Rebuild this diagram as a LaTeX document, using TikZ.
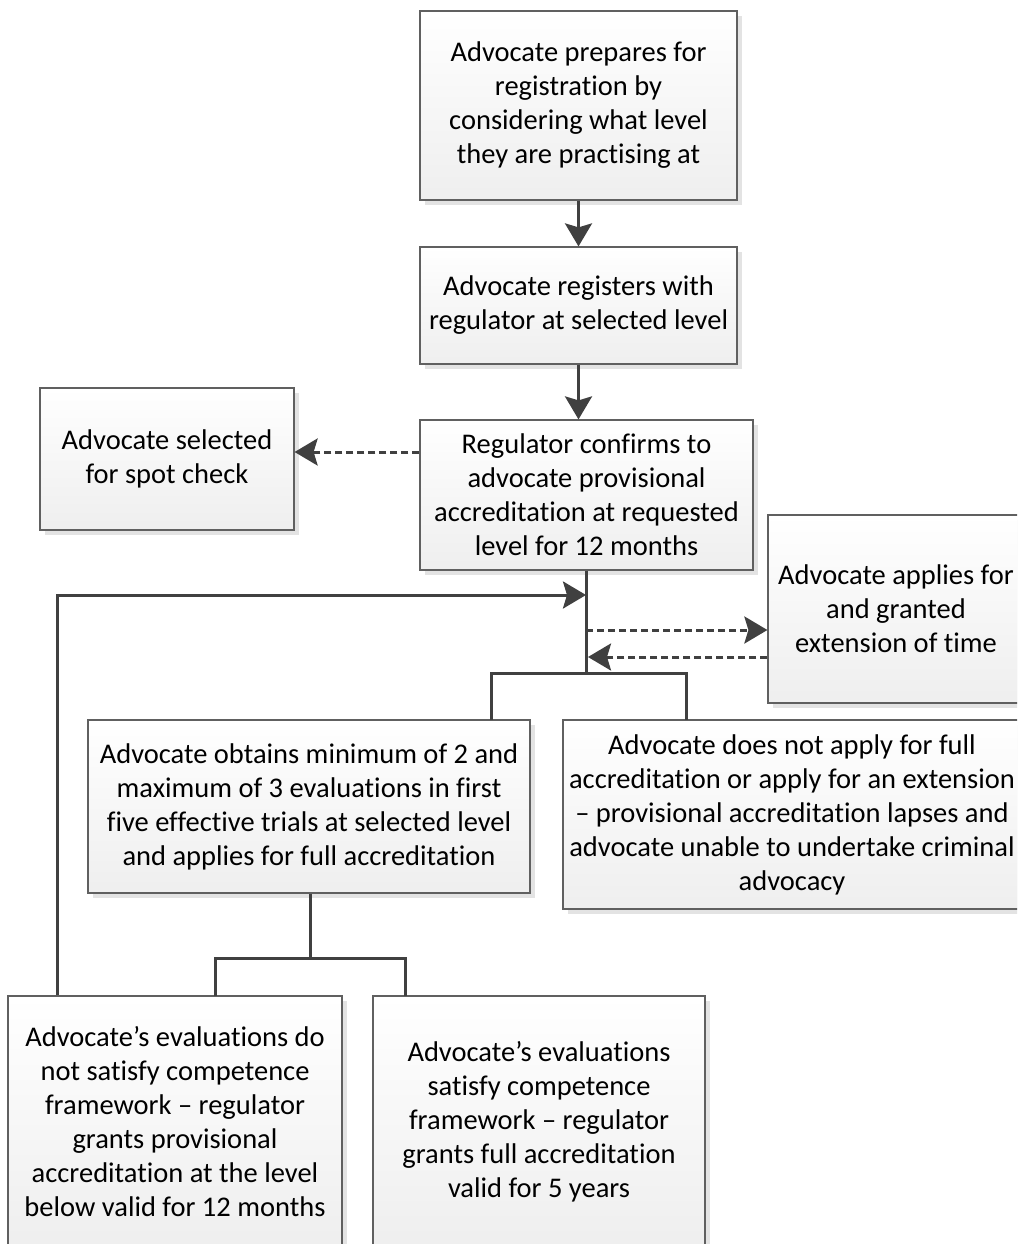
\documentclass[tikz,border=0pt]{standalone}
\usepackage{fontspec}
\setmainfont{Carlito}[Ligatures={NoCommon}]
\usetikzlibrary{arrows.meta,shadows}
\definecolor{ln}{HTML}{404040}
\definecolor{bd}{HTML}{606060}
\begin{document}
\begin{tikzpicture}[x=1pt,y=-1pt,
  box/.style={draw=bd,line width=1.2pt,rectangle,top color=white,bottom color=gray!13,
    drop shadow={shadow xshift=5pt,shadow yshift=-5pt,fill=gray!22,opacity=1},
    align=center,inner sep=0pt,font=\fontsize{28.5}{34}\selectfont},
  conn/.style={draw=ln,line width=3pt},
  arr/.style={conn,-{Stealth[length=23pt,width=27pt,inset=4pt]}},
  darr/.style={arr,dash pattern=on 7pt off 4pt}]
\useasboundingbox (0,0) rectangle (1017,1244);
\clip (0,0) rectangle (1017,1244);
\fill[white] (0,0) rectangle (1017,1244);
\node[box,minimum width=317pt,minimum height=189pt] (b1) at (578.5,105.5)
  {Advocate prepares for\\registration by\\considering what level\\they are practising at};
\node[box,minimum width=317pt,minimum height=117pt] (b2) at (578.5,305.5)
  {Advocate registers with\\regulator at selected level};
\node[box,minimum width=333pt,minimum height=150pt] (b3) at (586.5,495)
  {Regulator confirms to\\advocate provisional\\accreditation at requested\\level for 12 months};
\node[box,minimum width=254pt,minimum height=142pt] (spot) at (167,459)
  {Advocate selected\\for spot check};
\node[box,minimum width=256pt,minimum height=188pt] (ext) at (896,609)
  {Advocate applies for\\and granted\\extension of time};
\node[box,minimum width=442pt,minimum height=173pt] (obt) at (309,806.5)
  {Advocate obtains minimum of 2 and\\maximum of 3 evaluations in first\\five effective trials at selected level\\and applies for full accreditation};
\node[box,minimum width=458pt,minimum height=189pt] (nap) at (792,814.5)
  {Advocate does not apply for full\\accreditation or apply for an extension\\– provisional accreditation lapses and\\advocate unable to undertake criminal\\advocacy};
\node[box,minimum width=334pt,minimum height=251pt] (nsat) at (175,1121.5)
  {Advocate’s evaluations do\\not satisfy competence\\framework – regulator\\grants provisional\\accreditation at the level\\below valid for 12 months};
\node[box,minimum width=332pt,minimum height=251pt] (sat) at (539,1121.5)
  {Advocate’s evaluations\\satisfy competence\\framework – regulator\\grants full accreditation\\valid for 5 years};
% coordinates
\coordinate (j1) at (586,673);
\coordinate (jin) at (586,595);
\coordinate (jo) at (586,630);
\coordinate (ji) at (588,657);
\coordinate (j2) at (310,958);
% connectors
\draw[arr] (b1.south) -- (b2.north);
\draw[arr] (b2.south) -- (b3.north -| b2.south);
\draw[darr] (b3.west |- spot.east) ++(0,-7) -- (spot.east |- 0,452);
\draw[conn] (b3.south -| j1) -- (j1);
\draw[conn] (491,720) |- (j1) -| (686,720);
\draw[arr] (nsat.north -| 57,0) |- (jin);
\draw[darr] (jo) -- (ext.west |- jo);
\draw[darr] (ext.west |- ji) -- (ji);
\draw[conn] (obt.south -| j2) -- (j2);
\draw[conn] (215,996) |- (j2) -| (405,996);
\end{tikzpicture}
\end{document}
